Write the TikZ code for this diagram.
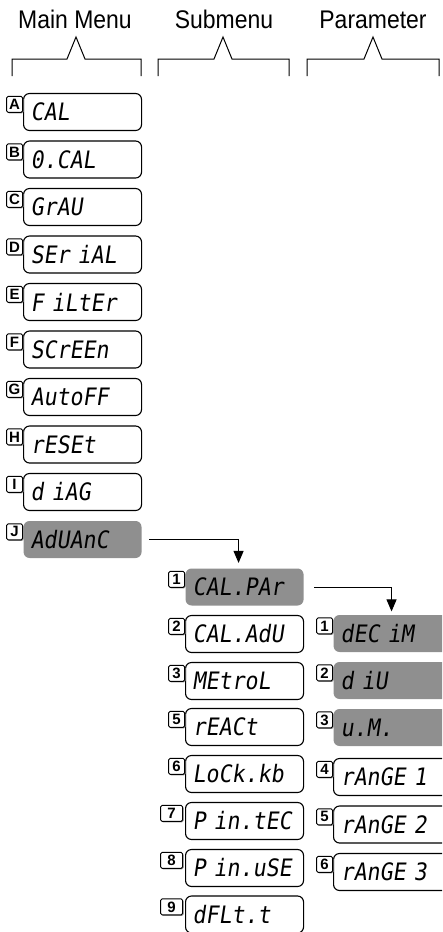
\documentclass[tikz,border=0pt]{standalone}
\usepackage{fontspec}
\setmainfont{Liberation Sans}
\newfontfamily\headfont[FakeStretch=0.9]{Liberation Sans}
\newfontfamily\lcdfont[FakeSlant=0.15, FakeStretch=0.9]{DejaVu Sans Mono}
\usetikzlibrary{arrows.meta, shadows}
\definecolor{lcdgray}{RGB}{143,143,143}
\tikzset{
  head/.style={anchor=base, inner sep=0pt, font=\headfont\fontsize{25.5pt}{26pt}\selectfont},
  menubox/.style={rectangle, draw, line width=1.1pt, rounded corners=6pt, anchor=west,
    minimum width=118pt, minimum height=37pt, text width=104pt, inner xsep=7pt,
    inner ysep=0pt, align=left, font=\lcdfont\fontsize{24pt}{24pt}\selectfont},
  selbox/.style={menubox, draw=none, fill=lcdgray},
  tagbox/.style={rectangle, draw, line width=0.9pt, rounded corners=1.5pt, fill=white,
    drop shadow={shadow xshift=1pt, shadow yshift=-1pt, fill=black!45, opacity=1},
    minimum width=16pt, minimum height=16pt, inner sep=0pt, anchor=north east,
    font=\bfseries\fontsize{15pt}{15pt}\selectfont},
  widetag/.style={tagbox, minimum width=22pt},
  flow/.style={line width=1pt, -{Triangle[length=12pt,width=10pt]}}
}

\begin{document}
\begin{tikzpicture}[x=1pt, y=-1pt]
\useasboundingbox (0,0) rectangle (442,932);
\clip (0,0) rectangle (442,932);

% 标题
\node[head] (hmain) at (75,28) {Main Menu};
\node[head] (hsub) at (224,28) {Submenu};
\node[head] (hpar) at (373,28) {Parameter};

% 括号
\draw[line width=1pt] (12,76) -- (12,59) -- (67,59) -- (76,37) -- (85,59) -- (141,59) -- (141,76);
\draw[line width=1pt] (158,76) -- (158,59) -- (214,59) -- (223,37) -- (232,59) -- (289,59) -- (289,76);
\draw[line width=1pt] (307,76) -- (307,59) -- (364,59) -- (373,37) -- (382,59) -- (439,59) -- (439,76);

% 主菜单
\node[menubox] (mA) at (23,112) {CAL};
\node[menubox] (mB) at (23,159.5) {0.CAL};
\node[menubox] (mC) at (23,207) {GrAU};
\node[menubox] (mD) at (23,254.5) {SEr iAL};
\node[menubox] (mE) at (23,302) {F iLtEr};
\node[menubox] (mF) at (23,349.5) {SCrEEn};
\node[menubox] (mG) at (23,397) {AutoFF};
\node[menubox] (mH) at (23,444.5) {rESEt};
\node[menubox] (mI) at (23,492) {d iAG};
\node[selbox] (mJ) at (23,539.5) {AdUAnC};

\node[tagbox] (tA) at ([yshift=-3pt]mA.north west) {A};
\node[tagbox] (tB) at ([yshift=-3pt]mB.north west) {B};
\node[tagbox] (tC) at ([yshift=-3pt]mC.north west) {C};
\node[tagbox] (tD) at ([yshift=-3pt]mD.north west) {D};
\node[tagbox] (tE) at ([yshift=-3pt]mE.north west) {E};
\node[tagbox] (tF) at ([yshift=-3pt]mF.north west) {F};
\node[tagbox] (tG) at ([yshift=-3pt]mG.north west) {G};
\node[tagbox] (tH) at ([yshift=-3pt]mH.north west) {H};
\node[tagbox] (tI) at ([yshift=-3pt]mI.north west) {I};
\node[tagbox] (tJ) at ([yshift=-3pt]mJ.north west) {J};

% 子菜单
\node[selbox] (s1) at (185,587) {CAL.PAr};
\node[menubox] (s2) at (185,634) {CAL.AdU};
\node[menubox] (s3) at (185,681) {MEtroL};
\node[menubox] (s5) at (185,727) {rEACt};
\node[menubox] (s6) at (185,774) {LoCk.kb};
\node[menubox] (s7) at (185,821) {P in.tEC};
\node[menubox] (s8) at (185,868) {P in.uSE};
\node[menubox] (s9) at (185,914.5) {dFLt.t};

\node[tagbox] (t1) at ([yshift=-3pt]s1.north west) {1};
\node[tagbox] (t2) at ([yshift=-3pt]s2.north west) {2};
\node[tagbox] (t3) at ([yshift=-3pt]s3.north west) {3};
\node[tagbox] (t5) at ([yshift=-3pt]s5.north west) {5};
\node[tagbox] (t6) at ([yshift=-3pt]s6.north west) {6};
\node[widetag] (t7) at ([xshift=-2pt, yshift=-3pt]s7.north west) {7};
\node[widetag] (t8) at ([xshift=-2pt, yshift=-3pt]s8.north west) {8};
\node[widetag] (t9) at ([xshift=-2pt, yshift=-3pt]s9.north west) {9};

% 参数
\node[selbox] (p1) at (333,633.5) {dEC iM};
\node[selbox] (p2) at (333,680.5) {d iU};
\node[selbox] (p3) at (333,727.5) {u.M.};
\node[menubox] (p4) at (333,777) {rAnGE 1};
\node[menubox] (p5) at (333,824.5) {rAnGE 2};
\node[menubox] (p6) at (333,872) {rAnGE 3};

\node[tagbox] (q1) at ([yshift=-3pt]p1.north west) {1};
\node[tagbox] (q2) at ([yshift=-3pt]p2.north west) {2};
\node[tagbox] (q3) at ([yshift=-3pt]p3.north west) {3};
\node[tagbox] (q4) at ([yshift=-3pt]p4.north west) {4};
\node[tagbox] (q5) at ([yshift=-3pt]p5.north west) {5};
\node[tagbox] (q6) at ([yshift=-3pt]p6.north west) {6};

% 箭头
\draw[flow, shorten >=5pt] ([xshift=7pt]mJ.east) -| ([xshift=-6pt]s1.north);
\draw[flow, shorten >=3pt] ([xshift=10pt]s1.east) -| ([xshift=-1pt]p1.north);

\end{tikzpicture}
\end{document}
